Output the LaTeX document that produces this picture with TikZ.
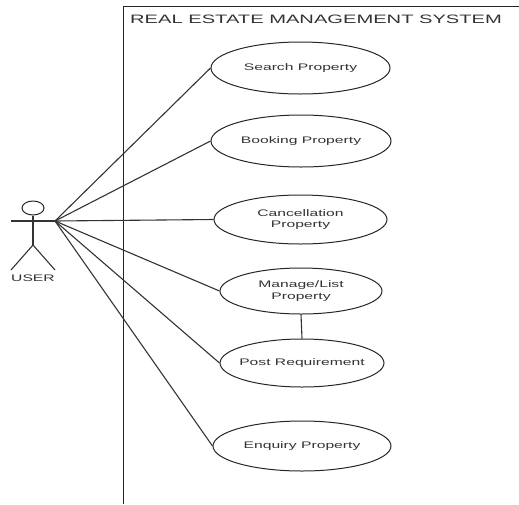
\documentclass[tikz,border=0pt]{standalone}
\usepackage{fontspec}
\setmainfont{Liberation Sans}
\newfontfamily\widefont[FakeStretch=1.65]{Liberation Sans}
\usetikzlibrary{shapes.geometric}
\tikzset{
  x=1pt,y=-1pt,
  usecase/.style={draw=black!85,line width=1pt,ellipse,inner xsep=-15pt,inner ysep=0pt,align=center,font=\widefont\fontsize{9.5}{11.5}\selectfont,text=black!80},
  conn/.style={draw=black!80,line width=1.1pt},
  frame/.style={draw=black!85,line width=0.9pt}
}
\begin{document}
\begin{tikzpicture}
\useasboundingbox (0,0) rectangle (519,504);
\draw[frame] (519,6) -- (123,6) -- (123,504);
\node[anchor=west,inner sep=0pt,font=\widefont\fontsize{12.2}{14}\selectfont,text=black!80] (title) at (130,19.5) {REAL ESTATE MANAGEMENT SYSTEM};
\node[usecase,minimum width=179pt,minimum height=52pt] (search) at (300.5,68) {Search Property};
\node[usecase,minimum width=180pt,minimum height=52pt] (booking) at (301,141) {Booking Property};
\node[usecase,minimum width=173pt,minimum height=49pt] (cancel) at (300.5,219.5) {Cancellation\\Property};
\node[usecase,minimum width=162pt,minimum height=46pt] (manage) at (301,291) {Manage/List\\Property};
\node[usecase,minimum width=164pt,minimum height=48pt] (post) at (302,363) {Post Requirement};
\node[usecase,minimum width=178pt,minimum height=50pt] (enquiry) at (302,446) {Enquiry Property};
\node[draw=black!85,line width=1pt,ellipse,minimum width=22pt,minimum height=14pt,inner sep=0pt] (head) at (33,208) {};
\coordinate (hand) at (55,221);
\coordinate (lhand) at (11,221);
\coordinate (hip) at (33,245);
\coordinate (lfoot) at (11,270);
\coordinate (rfoot) at (55,270);
\draw[conn] (head.south) -- (hip);
\draw[conn] (lhand) -- (hand);
\draw[conn] (lfoot) -- (hip) -- (rfoot);
\node[inner sep=0pt,font=\widefont\fontsize{9.5}{11}\selectfont,text=black!80] (user) at (33,278) {USER};
\draw[conn] (hand) -- (search.west);
\draw[conn] (hand) -- (booking.west);
\draw[conn] (hand) -- (cancel.west);
\draw[conn] (hand) -- (manage.west);
\draw[conn] (hand) -- (post.west);
\draw[conn] (hand) -- (enquiry.west);
\draw[conn] (manage.south) -- (post.north);
\end{tikzpicture}
\end{document}
